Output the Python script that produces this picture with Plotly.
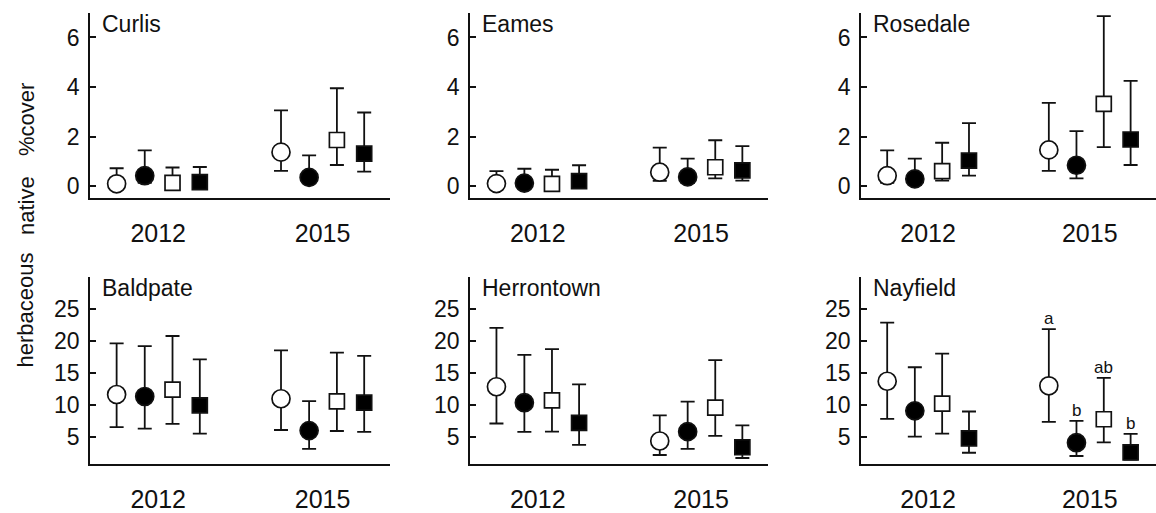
import plotly.graph_objects as go

# ---- data ---------------------------------------------------------------
sites = ["Curlis", "Eames", "Rosedale", "Baldpate", "Herrontown", "Nayfield"]
years = ["2012", "2015"]
treatments = ["T1", "T2", "T3", "T4"]

# mean cover per treatment, each list = [2012, 2015]
curlis_mean = [[0.09, 1.37], [0.42, 0.35], [0.13, 1.86], [0.16, 1.31]]
curlis_upper = [[0.72, 3.06], [1.44, 1.24], [0.75, 3.95], [0.77, 2.97]]
curlis_lower = [[0.00, 0.61], [0.13, 0.12], [0.00, 0.85], [0.02, 0.58]]

eames_mean = [[0.10, 0.56], [0.12, 0.37], [0.09, 0.76], [0.20, 0.63]]
eames_upper = [[0.60, 1.55], [0.70, 1.11], [0.66, 1.85], [0.84, 1.61]]
eames_lower = [[0.00, 0.21], [0.00, 0.12], [0.00, 0.31], [0.02, 0.22]]

rosedale_mean = [[0.42, 1.46], [0.29, 0.84], [0.60, 3.32], [1.03, 1.88]]
rosedale_upper = [[1.44, 3.36], [1.11, 2.22], [1.75, 6.86], [2.54, 4.25]]
rosedale_lower = [[0.13, 0.61], [0.05, 0.31], [0.22, 1.57], [0.42, 0.85]]

baldpate_mean = [[11.65, 10.99], [11.34, 6.03], [12.40, 10.58], [9.97, 10.38]]
baldpate_upper = [[19.60, 18.53], [19.19, 10.63], [20.76, 18.18], [17.11, 17.67]]
baldpate_lower = [[6.58, 6.13], [6.33, 3.19], [7.09, 5.97], [5.57, 5.82]]

herrontown_mean = [[12.86, 4.41], [10.38, 5.87], [10.73, 9.62], [7.24, 3.44]]
herrontown_upper = [[22.03, 8.41], [17.82, 10.53], [18.73, 17.01], [13.22, 6.84]]
herrontown_lower = [[7.14, 2.23], [5.82, 3.19], [5.87, 5.22], [3.80, 1.77]]

nayfield_mean = [[13.72, 13.01], [9.11, 4.15], [10.23, 7.80], [4.81, 2.63]]
nayfield_upper = [[22.84, 21.82], [15.90, 7.54], [18.03, 14.23], [9.01, 5.52]]
nayfield_lower = [[7.85, 7.39], [5.11, 2.08], [5.57, 4.20], [2.58, 1.52]]

# post-hoc groupings for Nayfield 2015, per treatment
nayfield_2015_letters = ["a", "b", "ab", "b"]

# words of the shared y-axis title, bottom to top
y_title_words = ["herbaceous", "native", "%cover"]

means = [curlis_mean, eames_mean, rosedale_mean,
         baldpate_mean, herrontown_mean, nayfield_mean]
uppers = [curlis_upper, eames_upper, rosedale_upper,
          baldpate_upper, herrontown_upper, nayfield_upper]
lowers = [curlis_lower, eames_lower, rosedale_lower,
          baldpate_lower, herrontown_lower, nayfield_lower]

row_ticks = [[0, 2, 4, 6], [5, 10, 15, 20, 25]]

# ---- layout geometry ------------------------------------------------------
W, H = 1156, 513
col_px = [(90, 390), (470, 768), (861, 1156)]
row_px = [(13, 202.7), (283.3, 475)]
row_ranges = [[-0.48, 7.0], [0.85, 30.0]]
x_range = [-0.415, 1.41]
offsets = [-0.253, -0.082, 0.087, 0.253]
y_title_centers_px = [318, 211, 123]

symbols = ["circle", "circle", "square", "square"]
fills = ["white", "black", "white", "black"]
sizes = [18, 18, 15, 15]
FONT = "Liberation Sans, Arial, sans-serif"
INK = "#111111"

fig = go.Figure()
layout = {}
annotations = []

for i, site in enumerate(sites):
    r, c = divmod(i, 3)
    xa = "x" if i == 0 else f"x{i + 1}"
    ya = "y" if i == 0 else f"y{i + 1}"
    xkey = "xaxis" if i == 0 else f"xaxis{i + 1}"
    ykey = "yaxis" if i == 0 else f"yaxis{i + 1}"

    x0, x1 = col_px[c]
    top, bot = row_px[r]
    layout[xkey] = dict(
        domain=[x0 / W, x1 / W], anchor=ya, range=x_range,
        tickvals=[0, 1], ticktext=years, ticks="",
        showline=True, linecolor=INK, linewidth=1.8,
        showgrid=False, zeroline=False, fixedrange=True,
        tickfont=dict(size=25, color=INK), ticklabelstandoff=12,
    )
    layout[ykey] = dict(
        domain=[1 - bot / H, 1 - top / H], anchor=xa, range=row_ranges[r],
        tickvals=row_ticks[r], ticks="inside", ticklen=6, tickwidth=1.6,
        tickcolor=INK, showline=True, linecolor=INK, linewidth=1.8,
        showgrid=False, zeroline=False, fixedrange=True,
        tickfont=dict(size=23, color=INK), ticklabelstandoff=4,
    )

    for t in range(4):
        m = means[i][t]
        up = uppers[i][t]
        lo = lowers[i][t]
        fig.add_trace(go.Scatter(
            x=[k + offsets[t] for k in range(2)], y=m,
            xaxis=xa, yaxis=ya, mode="markers", name=treatments[t],
            showlegend=False,
            marker=dict(symbol=symbols[t], size=sizes[t], color=fills[t],
                        line=dict(color=INK, width=1.7)),
            error_y=dict(type="data", symmetric=False,
                         array=[u - v for u, v in zip(up, m)],
                         arrayminus=[v - l for v, l in zip(m, lo)],
                         width=7, thickness=1.8, color=INK),
        ))

    # site name in the top-left corner of each panel
    annotations.append(dict(
        text=site, xref="paper", yref="paper",
        x=(x0 + 10) / W, y=1 - (top + 12) / H,
        xanchor="left", yanchor="middle", showarrow=False,
        font=dict(size=23, color=INK),
    ))

# letters above the Nayfield 2015 intervals
for t, letter in enumerate(nayfield_2015_letters):
    annotations.append(dict(
        text=letter, xref="x6", yref="y6",
        x=1 + offsets[t], y=nayfield_upper[t][1],
        xanchor="center", yanchor="bottom", showarrow=False,
        font=dict(size=17, color=INK), yshift=-1,
    ))

# shared y-axis title, one word at a time
for word, yc in zip(y_title_words, y_title_centers_px):
    annotations.append(dict(
        text=word, xref="paper", yref="paper", x=26 / W, y=1 - yc / H,
        xanchor="center", yanchor="middle", textangle=-90, showarrow=False,
        font=dict(size=22, color=INK),
    ))

fig.update_layout(
    width=W, height=H,
    margin=dict(l=0, r=0, t=0, b=0),
    paper_bgcolor="white", plot_bgcolor="white",
    font=dict(family=FONT, color=INK),
    annotations=annotations,
    **layout,
)

fig.write_html("out.html")
